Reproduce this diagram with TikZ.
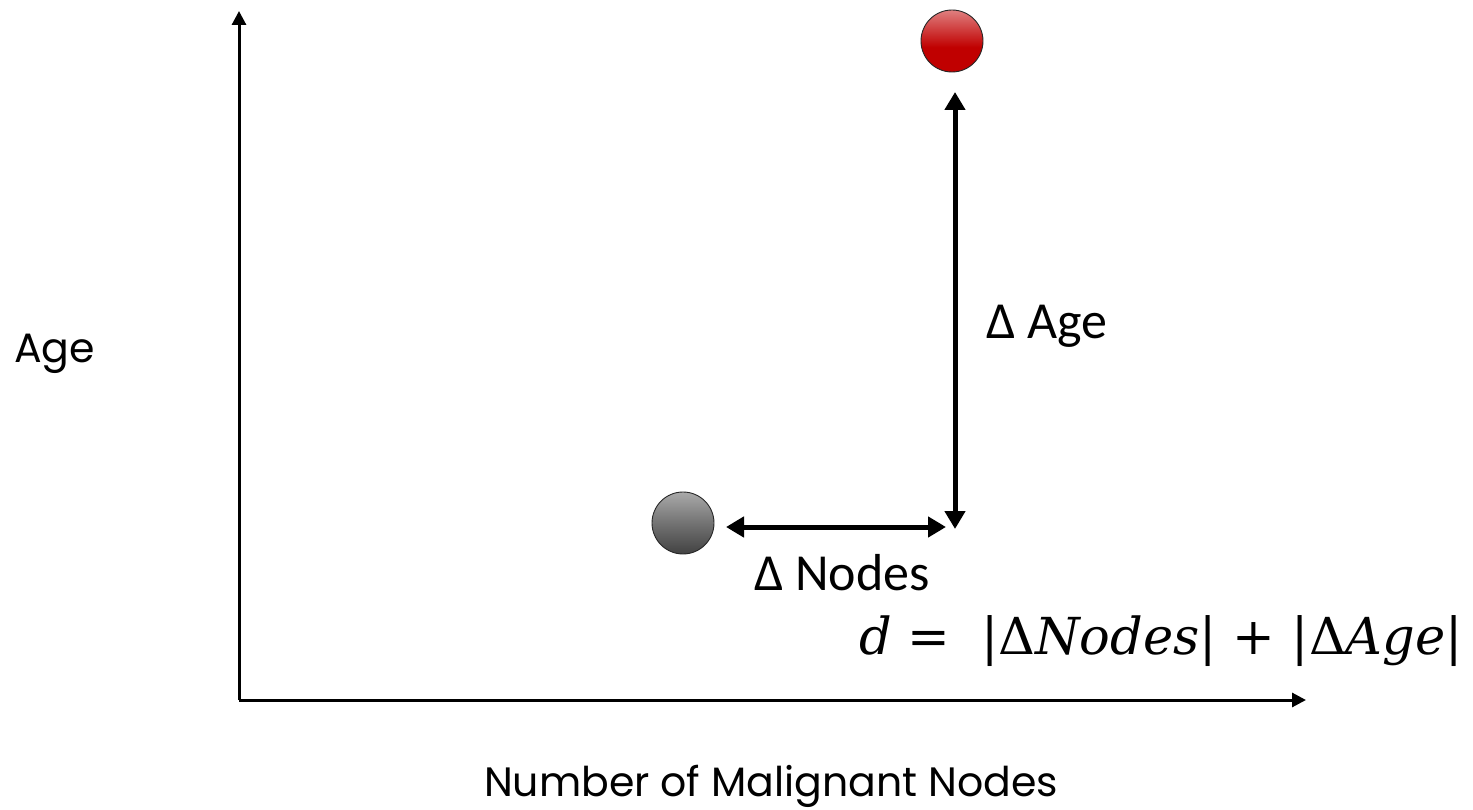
\documentclass[tikz,border=0pt]{standalone}
\usepackage{fontspec}
\newfontfamily\gothic{Poppins}
\newfontfamily\calib{Carlito}
\newfontfamily\formfont{DejaVu Serif}
\usetikzlibrary{arrows.meta}
\definecolor{ballred}{HTML}{C00000}
\pgfdeclareverticalshading{redball}{100bp}{color(0bp)=(ballred); color(45bp)=(ballred); color(75bp)=(ballred!50!white); color(100bp)=(ballred!5!white)}
\pgfdeclareverticalshading{greyball}{100bp}{color(0bp)=(black!70); color(20bp)=(black!78); color(50bp)=(black!55); color(100bp)=(black!12)}
\tikzset{
  ball/.style={circle, draw=black!85, line width=0.9pt, minimum size=62pt, inner sep=0pt},
  axis/.style={line width=3pt, -{Triangle[width=14pt,length=14pt]}},
  delta/.style={line width=5pt, {Triangle[width=20pt,length=18pt]}-{Triangle[width=20pt,length=18pt]}},
  lab/.style={font=\gothic\fontsize{41}{49}\selectfont, inner sep=0pt},
  dlab/.style={font=\calib\fontsize{52}{62}\selectfont, inner sep=0pt},
}
\begin{document}
\begin{tikzpicture}[x=1pt,y=-1pt]
\useasboundingbox (0,0) rectangle (1473,810);
\coordinate (O) at (239,700);
\coordinate (ytop) at (239,11);
\coordinate (xend) at (1306,700);
\draw[axis] (O) -- (ytop);
\draw[axis] (O) -- (xend);
\node[ball, shading=redball] (red) at (952,41) {};
\node[ball, shading=greyball] (grey) at (683,523) {};
\coordinate (vtop) at (955,92);
\coordinate (vbot) at (955,529);
\coordinate (hl) at (726,527);
\coordinate (hr) at (946,527);
\draw[delta] (vbot) -- (vtop);
\draw[delta] (hl) -- (hr);
\node[dlab, anchor=west] (dage) at (986,326) {Δ Age};
\node[dlab, anchor=west] (dnodes) at (754,573) {Δ Nodes};
\node[lab, anchor=west] (ylab) at (14,354) {Age};
\node[lab] (xlab) at (771,786) {Number of Malignant Nodes};
\node[inner sep=0pt, anchor=east, font=\formfont\fontsize{51}{60}\selectfont] (formula) at (1463,641) {{\itshape d} =\hspace{0.6em}|Δ{\itshape Nodes}| + |Δ{\itshape Age}|};
\end{tikzpicture}
\end{document}
